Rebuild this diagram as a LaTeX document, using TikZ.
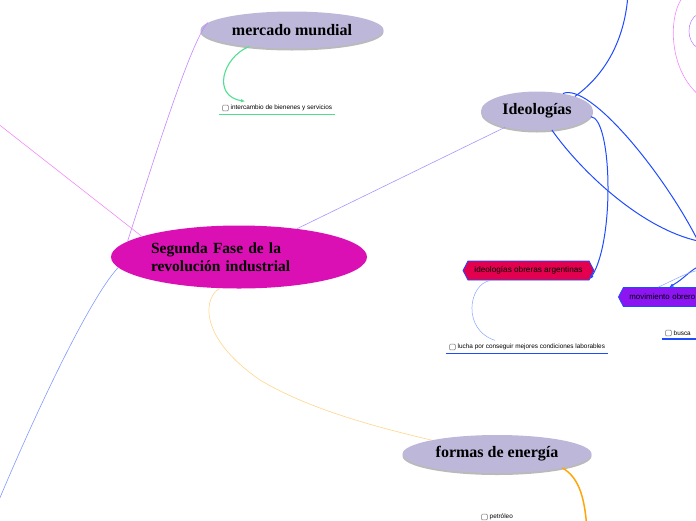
\documentclass[tikz,border=0pt]{standalone}
\usepackage{fontspec}
\setmainfont{Liberation Serif}
\newfontfamily\subfont{Liberation Sans}
\usepackage{tikz}
\usetikzlibrary{arrows.meta,shapes.geometric,shapes.symbols,shadows}

\definecolor{centralmag}{HTML}{DB10B4}
\definecolor{topiclav}{HTML}{BDB7DA}
\definecolor{ideoblue}{HTML}{1F4BFF}
\definecolor{argred}{HTML}{E3004F}
\definecolor{obrviolet}{HTML}{8C16F2}
\definecolor{mintgreen}{HTML}{4FE08F}
\definecolor{linkpurple}{HTML}{C385FF}
\definecolor{linkpink}{HTML}{F28AF8}
\definecolor{linkblue}{HTML}{8199FF}
\definecolor{linklilac}{HTML}{A795FF}
\definecolor{linkorange}{HTML}{FFD58A}
\definecolor{energyorange}{HTML}{FFA50A}
\definecolor{subblue}{HTML}{8AA4FF}

\begin{document}
\begin{tikzpicture}[
  x=1pt, y=-1pt,
  topic/.style={ellipse, fill=topiclav, inner sep=0pt, font=\bfseries\fontsize{16}{18}\selectfont,
    drop shadow={shadow xshift=0pt, shadow yshift=-2pt, fill=black!45, opacity=0.6}},
  banner/.style={signal, signal to=west and east, signal pointer angle=125, draw=ideoblue, line width=0.8pt,
    minimum height=19pt, inner sep=0pt, font=\subfont\fontsize{8.2}{9}\selectfont},
  sub/.style={anchor=west, inner xsep=3pt, inner ysep=3.5pt, font=\subfont\fontsize{6.4}{7}\selectfont},
  tickbox/.style={draw=black!55, line width=0.5pt, rounded corners=1pt},
  underline/.style={line width=1.4pt},
  link/.style={line width=0.6pt},
  ideolink/.style={draw=ideoblue, line width=1pt},
  arr/.style={-{Latex[length=4pt,width=3.5pt]}}
]
\useasboundingbox (0,0) rectangle (696,520);
\clip (0,0) rectangle (696,520);

\node[ellipse, fill=centralmag, minimum width=256pt, minimum height=63pt, inner sep=0pt,
  text width=176pt, align=left, font=\bfseries\fontsize{15.5}{18}\selectfont] (central) at (239,257)
  {Segunda Fase de la\\revolución industrial};
\node[topic, minimum width=183pt, minimum height=37pt] (mercado) at (292,30) {mercado mundial};
\node[topic, minimum width=112pt, minimum height=39pt] (ideo) at (537,111) {Ideologías};
\node[topic, minimum width=189pt, minimum height=38pt] (formas) at (497,454) {formas de energía};

\node[banner, fill=argred, minimum width=131pt] (ideoarg) at (528.5,270.5) {ideologías obreras argentinas};
\node[banner, fill=obrviolet, anchor=west, inner xsep=6pt, text width=110pt, align=left,
  font=\subfont\fontsize{7.9}{9}\selectfont] (movobr) at (618,297) {movimiento obrero};

\node[sub] (inter) at (219,108) {\hspace*{8.5pt}intercambio de bienenes y servicios};
\node[sub] (lucha) at (446,347) {\hspace*{8.5pt}lucha por conseguir mejores condiciones laborables};
\node[sub, text width=60pt, align=left] (busca) at (662,333) {\hspace*{8.5pt}busca};
\node[sub] (petroleo) at (478,517) {\hspace*{8.5pt}petróleo};

\draw[underline, draw=mintgreen] (inter.south west) -- (inter.south east);
\draw[underline, draw=ideoblue] (lucha.south west) -- (lucha.south east);
\draw[underline, draw=ideoblue] (busca.south west) -- (busca.south east);

\foreach \s in {inter,lucha,busca,petroleo}
  \draw[tickbox] ([xshift=3.5pt,yshift=2.9pt]\s.west) rectangle ++(5.8,5.8);

\coordinate (offwest) at (-40,94);
\coordinate (offsouth) at (-6,512);
\coordinate (offnorth) at (628,-6);
\coordinate (offeast) at (698,241);
\coordinate (offobr) at (700,266);
\coordinate (offbusca) at (700,270);
\coordinate (offenergy) at (587,530);
\coordinate (offpinka) at (683,-3);
\coordinate (offpinkb) at (700,96);
\coordinate (offlava) at (698,14);
\coordinate (offlavb) at (698,48);

\draw[link, linkpurple] (central.172) .. controls (160,140) and (192,40) .. (mercado.175);
\draw[link, linkpink] (central.168) -- (offwest);
\draw[link, linkblue] (central.185) .. controls (88,300) and (30,425) .. (offsouth);
\draw[link, linklilac] (central.26) -- (ideo.207);
\draw[link, linkorange] (central.239) .. controls (205,295) and (195,335) .. (260,380)
  .. controls (310,410) and (380,428) .. (formas.168);
\draw[energyorange, line width=1.5pt] (formas.348) .. controls (580,478) and (585,500) .. (offenergy);

\draw[mintgreen, line width=1.1pt, arr] (mercado.201) .. controls (222,58) and (212,96) .. ([xshift=26pt]inter.north west);

\draw[ideolink] (ideo.21) .. controls (605,75) and (625,40) .. (offnorth);
\draw[ideolink] (ideo.34) .. controls (590,82) and (665,175) .. (offeast);
\draw[ideolink] (ideo.308) .. controls (580,170) and (640,228) .. (offeast);
\draw[ideolink, arr] (ideo.354) .. controls (612,118) and (615,240) .. (ideoarg.-8);
\draw[ideolink, arr] (offobr) .. controls (690,270) and (685,278) .. ([xshift=-15pt]movobr.north);

\draw[subblue, line width=0.5pt] ([xshift=-38pt]ideoarg.south) .. controls (468,284) and (462,330) .. ([xshift=49pt]lucha.north west);
\draw[subblue, line width=0.5pt] ([xshift=-26pt]movobr.north) .. controls (678,278) and (688,272) .. (offbusca);

\draw[link, linkpink] (offpinka) .. controls (668,15) and (668,70) .. (offpinkb);
\draw[link, linkpurple] (offlava) .. controls (686,20) and (686,42) .. (offlavb);
\end{tikzpicture}
\end{document}
